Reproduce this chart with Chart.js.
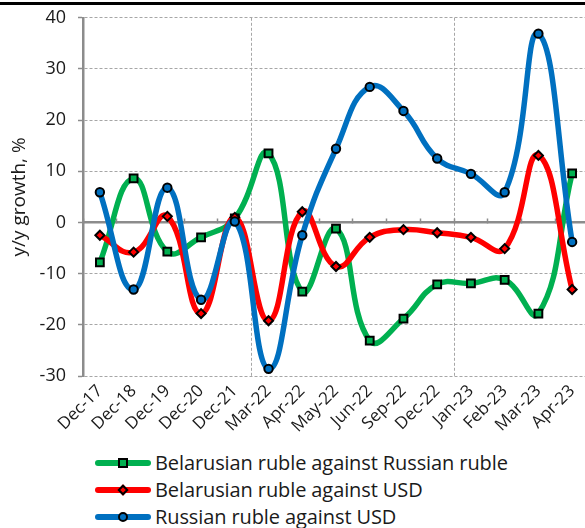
<!DOCTYPE html>
<html lang="en">
<head>
  <meta charset="UTF-8">
  <title>Exchange rates y/y</title>
  <script src="https://cdn.jsdelivr.net/npm/chart.js"></script>
  <style>
    html, body { margin: 0; padding: 0; background: #fff; overflow: hidden; }
    body { width: 585px; height: 528px; position: relative; font-family: 'Open Sans', sans-serif; }
    .topline { position: absolute; left: 0; top: 2px; width: 585px; height: 3px; background: #000; }
    #wrap { position: absolute; left: 0; top: -5px; width: 600px; height: 451px; }
    .legend { position: absolute; left: 95px; top: 449px; }
    .item { height: 27px; display: flex; align-items: center; font-size: 20px; color: #1a1a1a; white-space: nowrap; letter-spacing: -0.1px; }
    .swatch { width: 56px; height: 6px; border-radius: 3px; position: relative; margin-right: 4px; }
    .mk { position: absolute; left: 50%; top: 50%; border: 2px solid #000; box-sizing: border-box; }
  </style>
</head>
<body>
  <div id="wrap"><canvas id="chart" width="600" height="451"></canvas></div>
  <div class="topline"></div>
  <div class="legend" id="legend"></div>

  <script>
    const categories = ['Dec-17', 'Dec-18', 'Dec-19', 'Dec-20', 'Dec-21', 'Mar-22', 'Apr-22', 'May-22',
      'Jun-22', 'Sep-22', 'Dec-22', 'Jan-23', 'Feb-23', 'Mar-23', 'Apr-23'];
    const bynRub = [-7.8, 8.6, -5.7, -2.9, 0.8, 13.5, -13.5, -1.2, -23.1, -18.8, -12.1, -11.9, -11.2, -17.8, 9.6];
    const bynUsd = [-2.5, -5.8, 1.2, -17.8, 1.0, -19.2, 2.1, -8.6, -2.9, -1.4, -2.0, -2.9, -5.1, 13.1, -13.1];
    const rubUsd = [5.9, -13.1, 6.8, -15.1, 0.2, -28.6, -2.5, 14.4, 26.5, 21.8, 12.5, 9.5, 5.9, 36.9, -3.8];
    const yTicks = [-30, -20, -10, 0, 10, 20, 30, 40];

    const series = [
      { label: 'Belarusian ruble against Russian ruble', data: bynRub, color: '#00b050', style: 'rect', radius: 5.5, order: 3 },
      { label: 'Belarusian ruble against USD', data: bynUsd, color: '#ff0000', style: 'rectRot', radius: 4.5, order: 2 },
      { label: 'Russian ruble against USD', data: rubUsd, color: '#0070c0', style: 'circle', radius: 4.2, order: 1 }
    ];

    const axisGrey = '#8c8c8c';
    const tickFont = { family: 'Open Sans', size: 17 };

    new Chart(document.getElementById('chart'), {
      type: 'line',
      data: {
        labels: categories,
        datasets: series.map(s => ({
          label: s.label,
          data: s.data,
          borderColor: s.color,
          borderWidth: 5.5,
          tension: 0.45,
          pointStyle: s.style,
          pointRadius: s.radius,
          pointBackgroundColor: s.color,
          pointBorderColor: '#000',
          pointBorderWidth: 2,
          order: s.order,
          xAxisID: 'x',
          yAxisID: 'y'
        }))
      },
      options: {
        responsive: false,
        animation: false,
        layout: { padding: { top: 12, right: 11, left: 0, bottom: 0 } },
        plugins: { legend: { display: false }, tooltip: { enabled: false } },
        scales: {
          x: {
            type: 'category',
            offset: true,
            grid: {
              offset: true,
              drawTicks: false,
              lineWidth: 1,
              color: ctx => (ctx.index === 5 || ctx.index === 11) ? '#a6a6a6' : 'rgba(0,0,0,0)'
            },
            border: { display: false, dash: [3, 2] },
            ticks: {
              autoSkip: false,
              minRotation: 45,
              maxRotation: 45,
              padding: 5,
              color: '#1a1a1a',
              font: tickFont
            },
            afterFit: scale => { scale.height = 70; }
          },
          x2: {
            type: 'category',
            labels: categories,
            offset: true,
            position: { y: 0 },
            grid: {
              offset: true,
              drawOnChartArea: false,
              drawTicks: true,
              tickLength: -5,
              tickColor: axisGrey,
              tickWidth: 1.5
            },
            border: { display: true, color: axisGrey, width: 2.5 },
            ticks: { display: false }
          },
          y: {
            min: -30,
            max: 40,
            afterBuildTicks: scale => { scale.ticks = yTicks.map(v => ({ value: v })); },
            grid: {
              color: ctx => ctx.tick && ctx.tick.value === 0 ? 'rgba(0,0,0,0)' : '#a6a6a6',
              lineWidth: 1,
              drawTicks: true,
              tickLength: 5,
              tickColor: axisGrey,
              tickWidth: 1.5
            },
            border: { display: true, color: axisGrey, width: 2.5, dash: [3, 2] },
            ticks: { padding: 12, color: '#1a1a1a', font: { family: 'Open Sans', size: 18 } },
            title: {
              display: true,
              text: 'y/y growth, %',
              color: '#1a1a1a',
              font: { family: 'Open Sans', size: 19 },
              padding: { top: 8, bottom: 0 }
            },
            afterFit: scale => { scale.width = 83; }
          }
        }
      }
    });

    // legend built from the same series list
    const legend = document.getElementById('legend');
    series.forEach(s => {
      const row = document.createElement('div');
      row.className = 'item';
      const sw = document.createElement('div');
      sw.className = 'swatch';
      sw.style.background = s.color;
      const mk = document.createElement('div');
      mk.className = 'mk';
      mk.style.background = s.color;
      if (s.style === 'rect') {
        mk.style.width = '10px'; mk.style.height = '10px'; mk.style.margin = '-5px 0 0 -5px';
      } else if (s.style === 'rectRot') {
        mk.style.width = '8px'; mk.style.height = '8px'; mk.style.margin = '-4px 0 0 -4px';
        mk.style.transform = 'rotate(45deg)';
      } else {
        mk.style.width = '10px'; mk.style.height = '10px'; mk.style.margin = '-5px 0 0 -5px';
        mk.style.borderRadius = '50%';
      }
      sw.appendChild(mk);
      row.appendChild(sw);
      row.appendChild(document.createTextNode(s.label));
      legend.appendChild(row);
    });
  </script>
</body>
</html>
